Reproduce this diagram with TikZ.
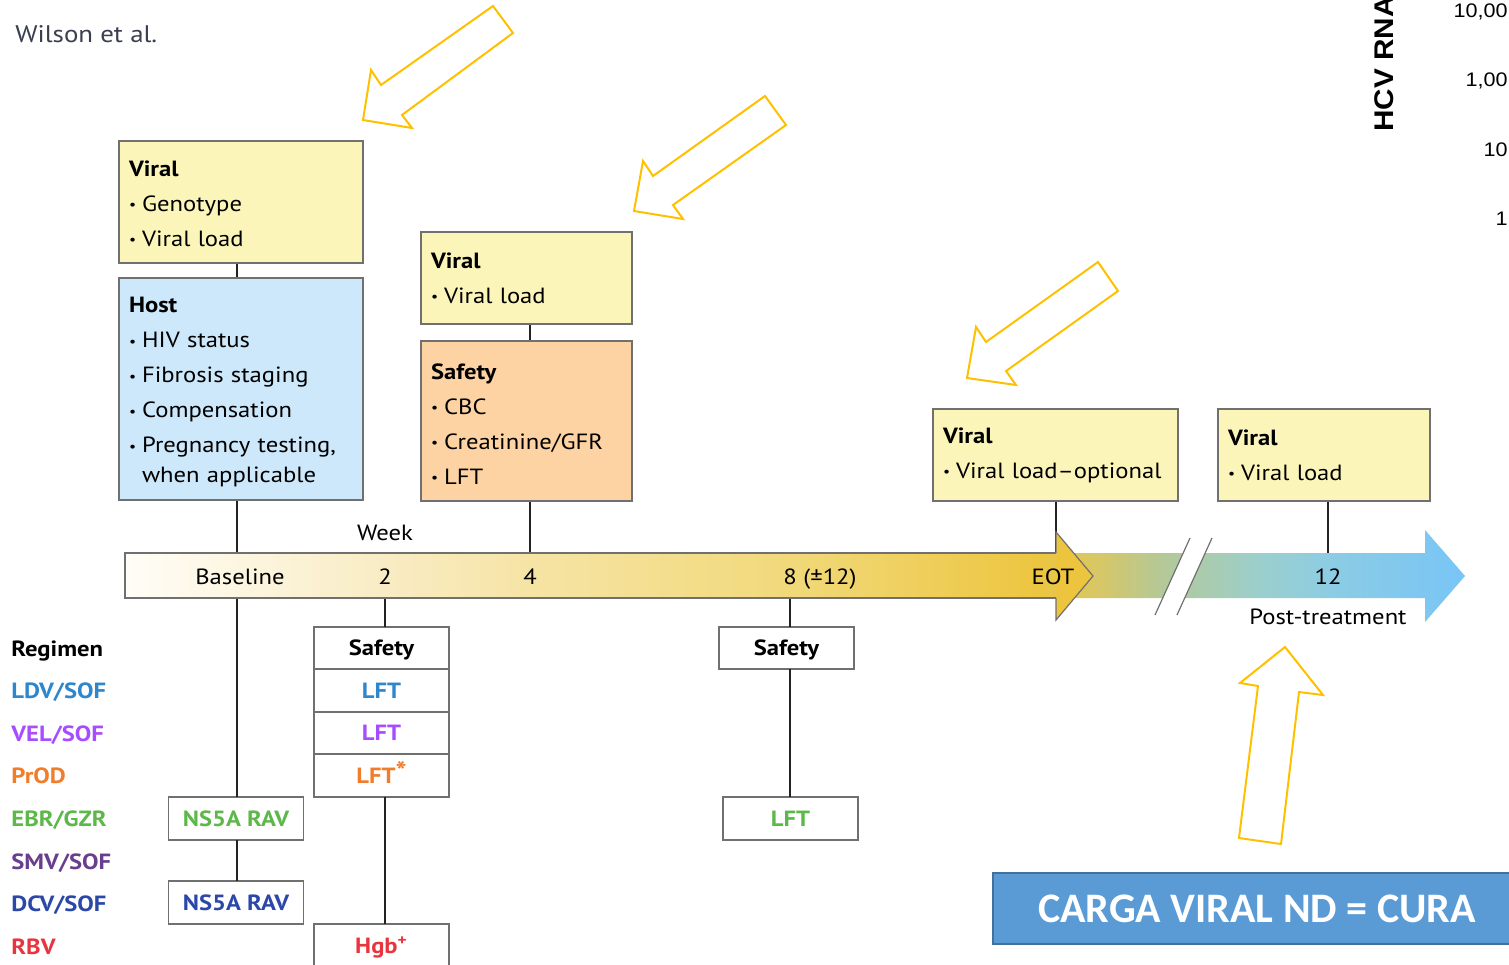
\documentclass[tikz,border=0pt]{standalone}
\usepackage{fontspec}
\setmainfont{PT Sans}[FakeStretch=1.12]
\newfontfamily\curafont{Carlito}
\newfontfamily\axisfont{Liberation Sans}[FakeStretch=1.1]
\definecolor{ViralYellow}{RGB}{252,245,186}
\definecolor{HostBlue}{RGB}{205,232,250}
\definecolor{SafetyOrange}{RGB}{253,211,163}
\definecolor{BoxGray}{RGB}{112,112,112}
\definecolor{LinkBlack}{RGB}{35,35,35}
\definecolor{CallGold}{RGB}{255,192,0}
\definecolor{CuraBlue}{RGB}{91,155,213}
\definecolor{CuraEdge}{RGB}{65,113,156}
\definecolor{AuthorInk}{RGB}{58,62,78}
\definecolor{RegLDV}{RGB}{46,134,204}
\definecolor{RegVEL}{RGB}{166,77,255}
\definecolor{RegPrOD}{RGB}{240,125,43}
\definecolor{RegEBR}{RGB}{93,184,74}
\definecolor{RegSMV}{RGB}{106,62,143}
\definecolor{RegDCV}{RGB}{43,72,168}
\definecolor{RegRBV}{RGB}{232,52,63}
\definecolor{EotGold}{RGB}{236,196,62}
\definecolor{TlA}{RGB}{255,253,247}
\definecolor{TlB}{RGB}{249,236,196}
\definecolor{TlC}{RGB}{246,228,165}
\definecolor{TlD}{RGB}{241,217,122}
\definecolor{TlE}{RGB}{237,198,64}
\definecolor{TlF}{RGB}{214,199,104}
\definecolor{TlG}{RGB}{181,200,150}
\definecolor{TlH}{RGB}{155,207,205}
\definecolor{TlI}{RGB}{140,204,228}
\definecolor{TlJ}{RGB}{120,197,246}
\usetikzlibrary{
    positioning
}
\pgfdeclarehorizontalshading{weekbar}{100bp}{
    color(0bp)=(TlA); color(25bp)=(TlA); color(34.7bp)=(TlB);
    color(40.1bp)=(TlC); color(49.8bp)=(TlD); color(59.1bp)=(TlE);
    color(61.4bp)=(TlF); color(63.6bp)=(TlG); color(67.4bp)=(TlH);
    color(70bp)=(TlI); color(75bp)=(TlJ); color(100bp)=(TlJ)
}
\newcommand{\bul}{\raisebox{0.15ex}{\scriptsize•}\hspace{3pt}}
\tikzset{
    infobox/.style={
        draw=BoxGray,
        line width=0.8pt,
        align=left,
        text width=#1,
        inner xsep=5pt,
        inner ysep=0pt,
        font=\fontsize{11}{17.5}\selectfont
    },
    cell/.style={
        draw=BoxGray,
        line width=0.8pt,
        minimum width=67.5pt,
        minimum height=21.25pt,
        text height=7.5pt,
        text depth=0pt,
        inner sep=0pt,
        outer sep=0pt,
        font=\fontsize{11}{13}\selectfont\bfseries
    },
    reglabel/.style={
        anchor=base west,
        inner sep=0pt,
        font=\fontsize{11}{13}\selectfont\bfseries
    },
    ticklabel/.style={
        anchor=base,
        inner sep=0pt,
        font=\fontsize{11}{13}\selectfont
    },
    link/.style={
        LinkBlack,
        line width=1pt
    },
    baredge/.style={
        BoxGray,
        line width=0.6pt
    },
    callout/.style={
        CallGold,
        line width=1pt,
        line join=miter
    }
}
\begin{document}
\begin{tikzpicture}[x=0.5pt,y=-0.5pt]
\useasboundingbox (0,0) rectangle (1509,964);
%
    \node[
        anchor=west,
        inner sep=0pt,
        AuthorInk,
        font=\fontsize{12}{14}\selectfont
    ]
    (author) at (15,34) {Wilson et al.};
%
    % plot axis left over at the top right
%
    \node[
        rotate=90,
        anchor=west,
        inner sep=0pt,
        font=\axisfont\bfseries\fontsize{13.5}{15}\selectfont
    ]
    (hcvaxis) at (1384,132) {HCV RNA};
    \foreach \lab/\ypos [count=\i] in {10{,}00/12, 1{,}00/81, 10/150, 1/219}
        \node[
            anchor=east,
            inner sep=0pt,
            font=\axisfont\fontsize{9.8}{11}\selectfont
        ]
        (ytick\i) at (1508,\ypos) {\lab};
%
    % boxes above the week bar
%
    \node[
        infobox=112pt,
        fill=ViralYellow,
        minimum height=61pt
    ]
    (vbase) at (241,202) {\rule{0pt}{9.5pt}\textbf{Viral}\\ \bul Genotype\\ \bul Viral load};
    \node[
        infobox=112pt,
        fill=HostBlue,
        minimum height=111pt
    ]
    (hbase) at (241,389) {\rule{0pt}{11pt}\textbf{Host}\\ \bul HIV status\\ \bul Fibrosis staging\\
        \bul Compensation\\ \bul Pregnancy testing,\\[-2.5pt] \phantom{\bul}when applicable};
    \node[
        infobox=95.5pt,
        fill=ViralYellow,
        minimum height=46pt
    ]
    (v4) at (526.5,278) {\textbf{Viral}\\ \bul Viral load};
    \node[
        infobox=95.5pt,
        fill=SafetyOrange,
        minimum height=80pt
    ]
    (sf4) at (526.5,421) {\rule{0pt}{11pt}\textbf{Safety}\\ \bul CBC\\ \bul Creatinine/GFR\\ \bul LFT};
    \node[
        infobox=112.5pt,
        fill=ViralYellow,
        minimum height=46pt
    ]
    (veot) at (1055.5,455) {\textbf{Viral}\\ \bul Viral load--optional};
    \node[
        infobox=96pt,
        fill=ViralYellow,
        minimum height=46pt
    ]
    (vpost) at (1324,455) {\textbf{Viral}\\ \bul Viral load};
%
    % regimen column
%
    \node[reglabel] (rhead) at (11,656) {Regimen};
    \node[reglabel, RegLDV] (rldv) at (11,698) {LDV/SOF};
    \node[reglabel, RegVEL] (rvel) at (11,741) {VEL/SOF};
    \node[reglabel, RegPrOD] (rprod) at (11,783) {PrOD};
    \node[reglabel, RegEBR] (rebr) at (11,826) {EBR/GZR};
    \node[reglabel, RegSMV] (rsmv) at (11,869) {SMV/SOF};
    \node[reglabel, RegDCV] (rdcv) at (11,911) {DCV/SOF};
    \node[reglabel, RegRBV] (rrbv) at (11,954) {RBV};
%
    % tests below the week bar
%
    \node[cell] (s2head) at (381.5,648) {Safety};
    \node[cell, below=0pt of s2head, text=RegLDV] (s2ldv) {LFT};
    \node[cell, below=0pt of s2ldv, text=RegVEL] (s2vel) {LFT};
    \node[cell, below=0pt of s2vel, text=RegPrOD] (s2prod) {LFT\raisebox{0.25ex}{\fontsize{13}{13}\selectfont*}};
    \node[cell, text=RegRBV] (s2hgb) at (381.5,945.5) {Hgb\textsuperscript{+}};
    \node[cell, text=RegEBR] (nsebr) at (236,818.5) {NS5A RAV};
    \node[cell, text=RegDCV] (nsdcv) at (236,902.5) {NS5A RAV};
    \node[cell] (s8head) at (786.5,648) {Safety};
    \node[cell, text=RegEBR] (l8ebr) at (790.5,818.5) {LFT};
%
    \coordinate (tk0) at (237,576);
    \coordinate (tk2) at (385,576);
    \coordinate (tk4) at (530,576);
    \coordinate (tk8) at (790,576);
    \coordinate (tkeot) at (1056,576);
    \coordinate (tk12) at (1328,576);
%
    \draw[link] (tk0 |- vbase.south) -- (tk0 |- hbase.north);
    \draw[link] (tk0 |- hbase.south) -- (tk0 |- nsebr.north);
    \draw[link] (tk0 |- nsebr.south) -- (tk0 |- nsdcv.north);
    \draw[link] (tk4 |- v4.south) -- (tk4 |- sf4.north);
    \draw[link] (tk4 |- sf4.south) -- (tk4);
    \draw[link] (tk2) -- (tk2 |- s2head.north);
    \draw[link] (tk2 |- s2prod.south) -- (tk2 |- s2hgb.north);
    \draw[link] (tk8) -- (tk8 |- s8head.north);
    \draw[link] (tk8 |- s8head.south) -- (tk8 |- l8ebr.north);
    \draw[link] (tkeot |- veot.south) -- (tkeot);
    \draw[link] (tk12 |- vpost.south) -- (tk12);
%
    % week bar, EOT head and the break
%
    \shade[
        shading=weekbar
    ]
    (125,553) -- (1425,553) -- (1425,530) -- (1465,576)
    -- (1425,622) -- (1425,598) -- (125,598) -- cycle;
    \draw[baredge] (1056,553) -- (125,553) -- (125,598) -- (1056,598);
    \fill[EotGold] (1056,532) -- (1093,576) -- (1056,620) -- cycle;
    \draw[baredge] (1056,553) -- (1056,532) -- (1093,576) -- (1056,620) -- (1056,598);
    \fill[white] (1155,615) -- (1190,538) -- (1212,538) -- (1177,615) -- cycle;
    \draw[baredge] (1155,615) -- (1190,538) (1177,615) -- (1212,538);
%
    \node[ticklabel] (week) at (385,540) {Week};
    \node[ticklabel] (lbase) at (240,584) {Baseline};
    \node[ticklabel] (l2) at (385,584) {2};
    \node[ticklabel] (l4) at (530,584) {4};
    \node[ticklabel] (l8) at (820,584) {8 (±12)};
    \node[ticklabel] (leot) at (1053,584) {EOT};
    \node[ticklabel] (l12) at (1328,584) {12};
    \node[ticklabel] (lpost) at (1328,624) {Post-treatment};
%
    % outlined call-out arrows
%
    \draw[callout] (493,6) -- (513,33) -- (402,115) -- (412,128)
        -- (363,120) -- (371,70) -- (381,85) -- cycle;
    \draw[callout] (765,96) -- (786,125) -- (673,205) -- (683,219)
        -- (634,211) -- (643,161) -- (653,176) -- cycle;
    \draw[callout] (1098,262) -- (1118,291) -- (1006,371) -- (1016,385)
        -- (967,378) -- (976,327) -- (986,342) -- cycle;
    \draw[callout] (1285,647) -- (1323,695) -- (1299,692) -- (1281,844)
        -- (1239,838) -- (1258,686) -- (1240,683) -- cycle;
%
    \node[
        anchor=west,
        fill=CuraBlue,
        draw=CuraEdge,
        line width=1pt,
        minimum width=264pt,
        minimum height=35.5pt,
        text=white,
        font=\curafont\bfseries\fontsize{21}{24}\selectfont
    ]
    (cura) at (992,908.5) {CARGA VIRAL ND = CURA};
%
\end{tikzpicture}
\end{document}
